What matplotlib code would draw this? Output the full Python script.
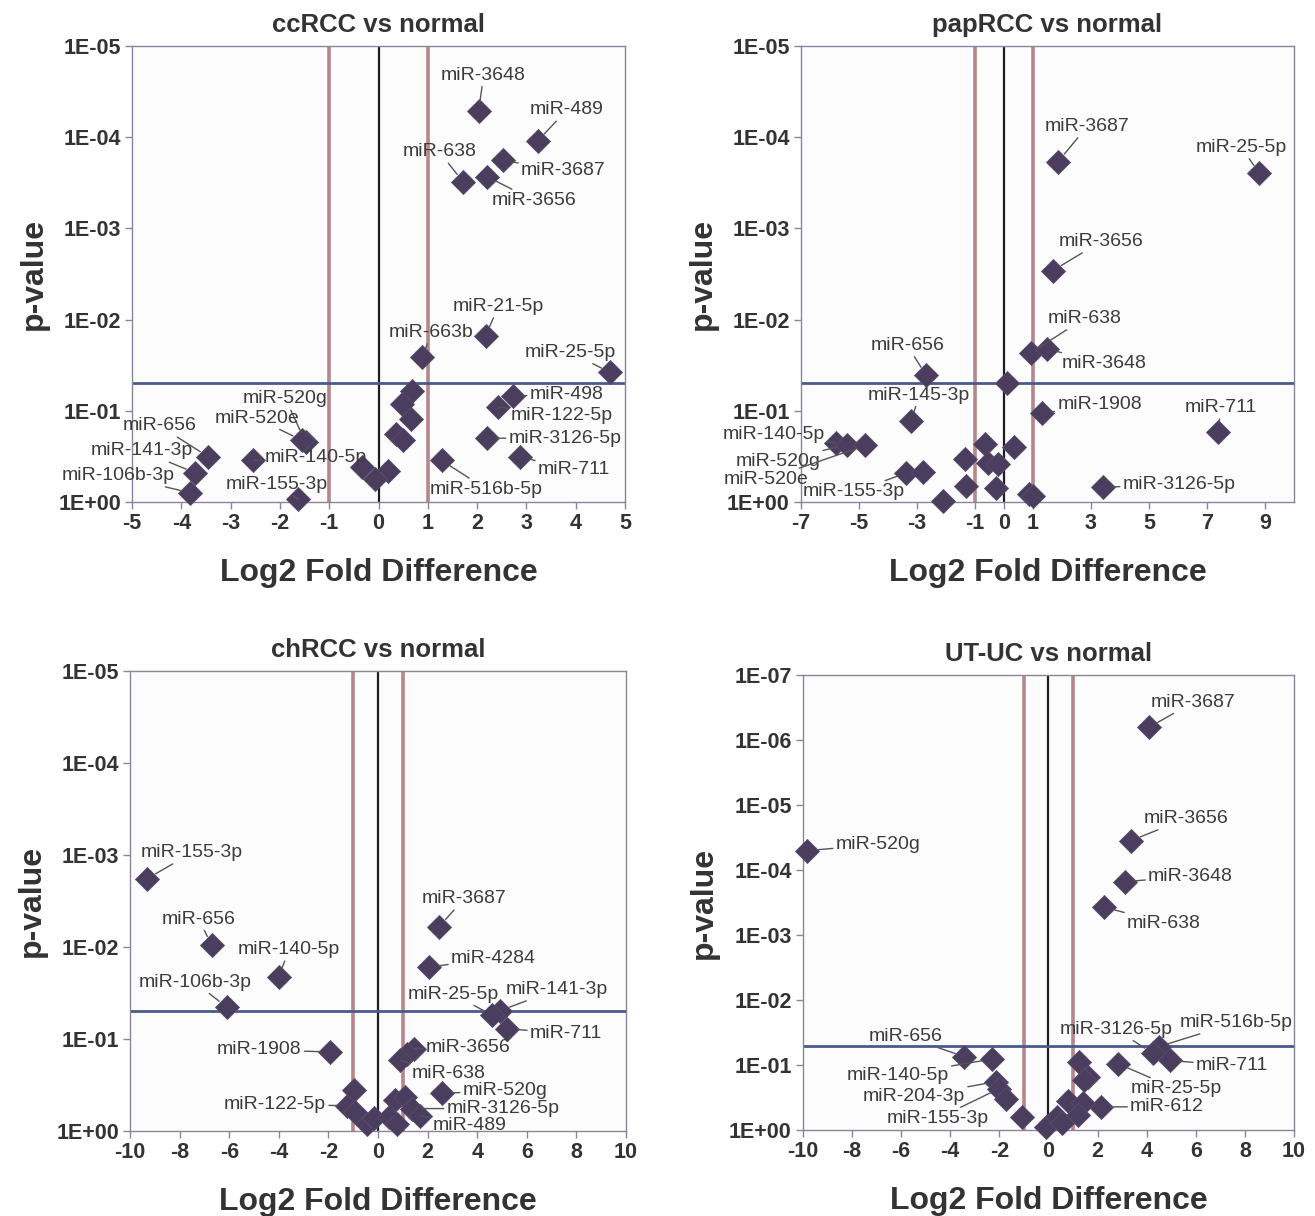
import numpy as np
import matplotlib
matplotlib.use("Agg")
import matplotlib.pyplot as plt
from matplotlib.ticker import FixedLocator, FuncFormatter, NullLocator

plt.rcParams['font.family'] = ['Liberation Sans', 'DejaVu Sans']

# ---------------- data ----------------
cc_names = ["miR-3648", "miR-489", "miR-3687", "miR-638", "miR-3656", "miR-21-5p",
            "miR-663b", "miR-25-5p", "", "miR-498", "", "miR-122-5p", "", "", "",
            "miR-3126-5p", "miR-520g", "miR-520e", "miR-711", "miR-656", "miR-140-5p",
            "miR-516b-5p", "miR-141-3p", "", "", "", "miR-106b-3p", "miR-155-3p"]
cc_log2fc = [2.03, 3.23, 2.53, 1.72, 2.20, 2.17, 0.89, 4.70, 0.68, 2.72, 0.47, 2.43,
             0.66, 0.36, 0.50, 2.20, -1.48, -1.56, 2.87, -3.45, -2.54, 1.28, -3.72,
             -0.33, 0.20, -0.07, -3.83, -1.63]
cc_pvalue = [5.2e-5, 1.1e-4, 1.8e-4, 3.1e-4, 2.7e-4, 0.015, 0.026, 0.038, 0.060, 0.069,
             0.084, 0.091, 0.123, 0.18, 0.21, 0.20, 0.22, 0.21, 0.32, 0.32, 0.35, 0.35,
             0.48, 0.41, 0.46, 0.56, 0.79, 0.93]

pap_names = ["miR-3687", "miR-25-5p", "miR-3656", "miR-638", "miR-3648", "miR-656", "",
             "miR-1908", "miR-145-3p", "miR-711", "miR-140-5p", "miR-520g", "miR-520e",
             "", "", "", "", "", "miR-155-3p", "", "", "", "miR-3126-5p", "", "", ""]
pap_log2fc = [1.87, 8.81, 1.69, 0.94, 1.50, -2.68, 0.11, 1.30, -3.20, 7.38, -5.80, -5.42,
              -4.78, -0.66, 0.33, -1.36, -0.56, -0.21, -3.37, -2.80, -1.30, -0.26, 3.42,
              0.88, 0.99, -2.10]
pap_pvalue = [1.85e-4, 2.5e-4, 2.9e-3, 0.023, 0.021, 0.041, 0.050, 0.107, 0.13, 0.17,
              0.225, 0.235, 0.24, 0.23, 0.25, 0.34, 0.37, 0.38, 0.48, 0.47, 0.66, 0.70,
              0.69, 0.82, 0.87, 0.98]

ch_names = ["miR-155-3p", "miR-656", "miR-140-5p", "miR-106b-3p", "miR-3687", "miR-4284",
            "miR-141-3p", "miR-25-5p", "miR-711", "miR-1908", "miR-3656", "", "miR-638",
            "miR-520g", "", "miR-122-5p", "", "", "", "", "", "", "miR-3126-5p", "miR-489",
            ""]
ch_log2fc = [-9.31, -6.71, -4.00, -6.10, 2.46, 2.07, 4.93, 4.60, 5.20, -1.92, 1.44, 1.17,
             0.90, 2.58, -0.98, -1.25, -0.92, -0.44, -0.18, 0.70, 1.10, 0.43, 1.37, 1.71,
             0.77]
ch_pvalue = [1.8e-3, 9.5e-3, 0.021, 0.045, 6.0e-3, 0.0165, 0.049, 0.055, 0.077, 0.138,
             0.127, 0.144, 0.17, 0.39, 0.36, 0.53, 0.62, 0.83, 0.73, 0.46, 0.43, 0.70,
             0.57, 0.68, 0.83]

ut_names = ["miR-3687", "miR-3656", "miR-520g", "miR-3648", "miR-638", "miR-516b-5p",
            "miR-3126-5p", "miR-711", "miR-25-5p", "miR-612", "miR-656", "miR-140-5p",
            "miR-204-3p", "miR-155-3p", "", "", "", "", "", "", "", "", "", "", ""]
ut_log2fc = [4.11, 3.37, -9.83, 3.10, 2.26, 4.50, 4.25, 4.95, 2.85, 2.14, -3.43, -2.31,
             -2.14, -2.00, -1.73, -1.06, -0.10, 1.24, 1.62, 1.45, 0.81, 1.42, 0.33, 1.22,
             0.54]
ut_pvalue = [6.3e-7, 3.5e-5, 5.0e-5, 1.5e-4, 3.7e-4, 0.052, 0.066, 0.085, 0.096, 0.44,
             0.074, 0.081, 0.18, 0.23, 0.33, 0.63, 0.91, 0.091, 0.15, 0.17, 0.36, 0.39,
             0.63, 0.59, 0.79]

titles = ["ccRCC vs normal", "papRCC vs normal", "chRCC vs normal", "UT-UC vs normal"]
p_cutoff = 0.05
fc_cutoff = 1.0

# ---------------- layout (label offsets in pixels: dx right, dy up) ----------------
cc_offsets = {"miR-3648": (5, 36), "miR-489": (29, 31), "miR-638": (-24, 30),
              "miR-3687": (60, -10), "miR-3656": (47, -24), "miR-21-5p": (13, 29),
              "miR-663b": (9, 25), "miR-25-5p": (-40, 20), "miR-498": (54, 2),
              "miR-122-5p": (63, -8), "miR-3126-5p": (78, 0), "miR-711": (54, -13),
              "miR-516b-5p": (45, -29), "miR-520g": (-20, 43), "miR-520e": (-45, 22),
              "miR-656": (-49, 31), "miR-141-3p": (-53, 22), "miR-106b-3p": (-72, 17),
              "miR-140-5p": (63, 3), "miR-155-3p": (-21, 15)}
pap_offsets = {"miR-3687": (29, 35), "miR-25-5p": (-18, 26), "miR-3656": (48, 29),
               "miR-638": (53, 34), "miR-3648": (57, -15), "miR-656": (-19, 30),
               "miR-145-3p": (8, 26), "miR-1908": (58, 9), "miR-711": (3, 24),
               "miR-140-5p": (-62, 8), "miR-520g": (-69, -17), "miR-520e": (-99, -34),
               "miR-155-3p": (-52, -19), "miR-3126-5p": (76, 3)}
ch_offsets = {"miR-155-3p": (45, 26), "miR-656": (-13, 26), "miR-140-5p": (10, 27),
              "miR-106b-3p": (-32, 25), "miR-3687": (25, 28), "miR-4284": (64, 9),
              "miR-25-5p": (-39, 21), "miR-141-3p": (56, 21), "miR-711": (59, -5),
              "miR-1908": (-71, 2), "miR-3656": (54, 1), "miR-638": (48, -13),
              "miR-520g": (63, 3), "miR-3126-5p": (91, 0), "miR-489": (49, -10),
              "miR-122-5p": (-72, 1)}
ut_offsets = {"miR-3687": (44, 25), "miR-3656": (55, 22), "miR-520g": (71, 6),
              "miR-3648": (66, 5), "miR-638": (60, -16), "miR-3126-5p": (-37, 24),
              "miR-516b-5p": (77, 24), "miR-711": (62, -5), "miR-25-5p": (58, -25),
              "miR-612": (66, 0), "miR-656": (-59, 20), "miR-140-5p": (-94, -16),
              "miR-204-3p": (-82, -15), "miR-155-3p": (-62, -30)}

panels = [
    dict(names=cc_names, x=cc_log2fc, p=cc_pvalue, off=cc_offsets, title=titles[0],
         xlim=(-5, 5), xticks=list(range(-5, 6)), ymin_exp=-5,
         rect=[0.1004, 0.5872, 0.3749, 0.375]),
    dict(names=pap_names, x=pap_log2fc, p=pap_pvalue, off=pap_offsets, title=titles[1],
         xlim=(-7, 10), xticks=[-7, -5, -3, -1, 0, 1, 3, 5, 7, 9], ymin_exp=-5,
         rect=[0.6091, 0.5872, 0.3749, 0.375]),
    dict(names=ch_names, x=ch_log2fc, p=ch_pvalue, off=ch_offsets, title=titles[2],
         xlim=(-10, 10), xticks=list(range(-10, 11, 2)), ymin_exp=-5,
         rect=[0.0989, 0.0699, 0.3772, 0.378]),
    dict(names=ut_names, x=ut_log2fc, p=ut_pvalue, off=ut_offsets, title=titles[3],
         xlim=(-10, 10), xticks=list(range(-10, 11, 2)), ymin_exp=-7,
         rect=[0.6106, 0.0707, 0.3734, 0.374]),
]

MARKER = '#4b3d5e'
FRAME = '#8c8499'
TXT = '#333333'
LBL = '#3c3c3c'

fig = plt.figure(figsize=(13.15, 12.16), dpi=100)
fig.patch.set_facecolor('white')


def yfmt(v, pos):
    e = int(round(np.log10(v)))
    return "1E{:+03d}".format(e)


for pnl in panels:
    ax = fig.add_axes(pnl['rect'])
    ax.set_facecolor('#fcfcfd')
    ax.set_yscale('log')
    top = 10.0 ** pnl['ymin_exp']
    ax.set_ylim(1.0, top)
    ax.set_xlim(*pnl['xlim'])
    ax.yaxis.set_major_locator(FixedLocator([10.0 ** e for e in range(pnl['ymin_exp'], 1)]))
    ax.yaxis.set_minor_locator(NullLocator())
    ax.yaxis.set_major_formatter(FuncFormatter(yfmt))
    ax.xaxis.set_major_locator(FixedLocator(pnl['xticks']))
    ax.xaxis.set_major_formatter(FuncFormatter(lambda v, pos: "{:d}".format(int(round(v)))))

    for sp in ax.spines.values():
        sp.set_color(FRAME)
        sp.set_linewidth(1.0)
    ax.tick_params(axis='both', which='major', direction='out', length=5, width=1,
                   color=FRAME, labelcolor=TXT, labelsize=15.5, pad=3)
    for lab in ax.get_xticklabels() + ax.get_yticklabels():
        lab.set_fontweight('bold')

    # threshold lines
    for v in (-fc_cutoff, fc_cutoff):
        ax.axvline(v, color='#b5868a', lw=2.6, zorder=1)
    ax.axvline(0, color='#1e1e1e', lw=1.6, zorder=1)
    ax.axhline(p_cutoff, color='#4a5a8c', lw=2.0, zorder=1)

    ax.scatter(pnl['x'], pnl['p'], marker='D', s=150, color=MARKER,
               edgecolors='#5a4d6c', linewidths=0.6, zorder=3, clip_on=False)

    for name, xv, pv in zip(pnl['names'], pnl['x'], pnl['p']):
        if not name:
            continue
        dx, dy = pnl['off'][name]
        ax.annotate(name, xy=(xv, pv), xytext=(dx * 0.72, dy * 0.72),
                    textcoords='offset points', ha='center', va='center',
                    fontsize=14, color=LBL, zorder=4,
                    arrowprops=dict(arrowstyle='-', color='#555555', lw=1.0,
                                    shrinkA=0, shrinkB=7))

    ax.set_title(pnl['title'], fontsize=18.5, fontweight='bold', color=TXT, pad=10)
    ax.set_xlabel("Log2 Fold Difference", fontsize=23, fontweight='bold', color=TXT,
                  labelpad=17)
    ax.set_ylabel("p-value", fontsize=23, fontweight='bold', color=TXT, labelpad=7)

fig.savefig("out.png", dpi=100, facecolor='white')
